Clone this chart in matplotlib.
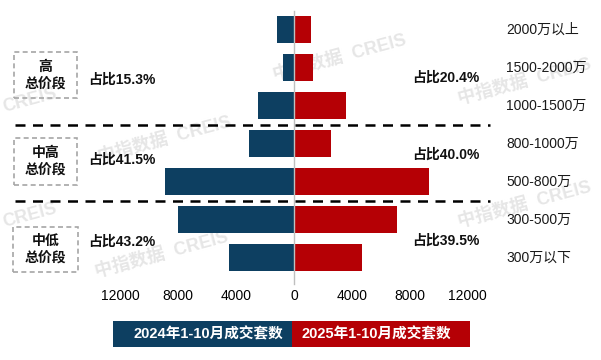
import matplotlib
matplotlib.use("Agg")
import matplotlib.pyplot as plt
from matplotlib.patches import Rectangle
from matplotlib.lines import Line2D
import matplotlib.transforms as mtransforms

plt.rcParams['font.family'] = ['Liberation Sans', 'Noto Sans CJK SC', 'DejaVu Sans']

categories = ['2000万以上', '1500-2000万', '1000-1500万', '800-1000万', '500-800万', '300-500万', '300万以下']
sales_2024 = [1200, 770, 2500, 3130, 8900, 8000, 4520]
sales_2025 = [1150, 1300, 3600, 2580, 9330, 7100, 4730]
series_names = ['2024年1-10月成交套数', '2025年1-10月成交套数']
group_names = ['高\n总价段', '中高\n总价段', '中低\n总价段']
share_2024 = ['占比15.3%', '占比41.5%', '占比43.2%']
share_2025 = ['占比20.4%', '占比40.0%', '占比39.5%']
tick_values = [-12000, -8000, -4000, 0, 4000, 8000, 12000]
tick_labels = ['12000', '8000', '4000', '0', '4000', '8000', '12000']

BLUE = '#0D3F61'
RED = '#B50005'

W, H = 601, 360
fig = plt.figure(figsize=(W / 100, H / 100), dpi=100)

def fx(x):
    return x / W

def fy(y):
    return 1 - y / H

# axes: x pixels 91.5..496.5, y pixels 10.5..276.5
ax = fig.add_axes([fx(91.5), fy(276.5), (496.5 - 91.5) / W, (276.5 - 10.5) / H])
ypos = list(range(len(categories)))
ax.barh(ypos, [-v for v in sales_2024], height=0.72, color=BLUE, edgecolor='none')
ax.barh(ypos, sales_2025, height=0.72, color=RED, edgecolor='none')
ax.set_xlim(-14000, 14000)
ax.set_ylim(len(categories) - 0.5, -0.5)
ax.axvline(0, color='#BFBFBF', lw=1, ymin=-0.03, ymax=1.0, clip_on=False, zorder=3)
for s in ax.spines.values():
    s.set_visible(False)
ax.set_yticks([])
ax.set_xticks(tick_values)
ax.set_xticklabels(tick_labels, fontsize=10)
ax.tick_params(axis='x', length=0, pad=9)
ax.patch.set_alpha(0)

# watermarks (behind everything)
wm_pos = [(165, 140), (525, 82), (525, 205), (162, 255), (340, 58)]
for (x, y) in wm_pos:
    fig.text(fx(x), fy(y), '中指数据  CREIS', fontsize=13, fontweight='bold',
             color='#E6E6E6', rotation=15, ha='center', va='center', zorder=-5)
for (x, y) in [(30, 100), (30, 215)]:
    fig.text(fx(x), fy(y), 'CREIS', fontsize=13, fontweight='bold',
             color='#E6E6E6', rotation=15, ha='center', va='center', zorder=-5)

blend = mtransforms.blended_transform_factory(fig.transFigure, ax.transData)

# category labels
for i, c in enumerate(categories):
    t = fig.text(fx(506), 0, c, fontsize=10, ha='left', va='center', color='#1a1a1a')
    t.set_transform(blend)
    t.set_position((fx(506), i))

# dashed separators
for yv in [2.5, 4.5]:
    ln = Line2D([fx(15), fx(490)], [yv, yv], transform=blend, color='black', lw=1.8,
                linestyle=(0, (4, 3)), clip_on=False)
    fig.add_artist(ln)

# group boxes
boxes = [(14, 52, 77, 98), (14, 138, 77, 185), (13, 227, 78, 272)]
for (x0, y0, x1, y1), name in zip(boxes, group_names):
    r = Rectangle((fx(x0), fy(y1)), (x1 - x0) / W, (y1 - y0) / H, transform=fig.transFigure,
                  fill=False, edgecolor='#A6A6A6', lw=1.2, linestyle=(0, (3, 2)))
    fig.add_artist(r)
    fig.text(fx((x0 + x1) / 2), fy((y0 + y1) / 2), name, fontsize=10, fontweight='bold',
             ha='center', va='center', linespacing=1.25, color='#111111')

# share labels
for s, y in zip(share_2024, [80, 160, 242]):
    fig.text(fx(88), fy(y), s, fontsize=10, fontweight='bold', ha='left', va='center', color='#111111')
for s, y in zip(share_2025, [78, 155, 241]):
    fig.text(fx(412), fy(y), s, fontsize=10, fontweight='bold', ha='left', va='center', color='#111111')

# legend boxes
fig.add_artist(Rectangle((fx(113), fy(347)), (292 - 113) / W, 26 / H, transform=fig.transFigure,
                         facecolor=BLUE, edgecolor='none'))
fig.add_artist(Rectangle((fx(292), fy(347)), (470 - 292) / W, 26 / H, transform=fig.transFigure,
                         facecolor=RED, edgecolor='none'))
fig.text(fx(283), fy(334), series_names[0], fontsize=10.5, fontweight='bold', color='white',
         ha='right', va='center')
fig.text(fx(302), fy(334), series_names[1], fontsize=10.5, fontweight='bold', color='white',
         ha='left', va='center')

fig.savefig('out.png', dpi=100)
